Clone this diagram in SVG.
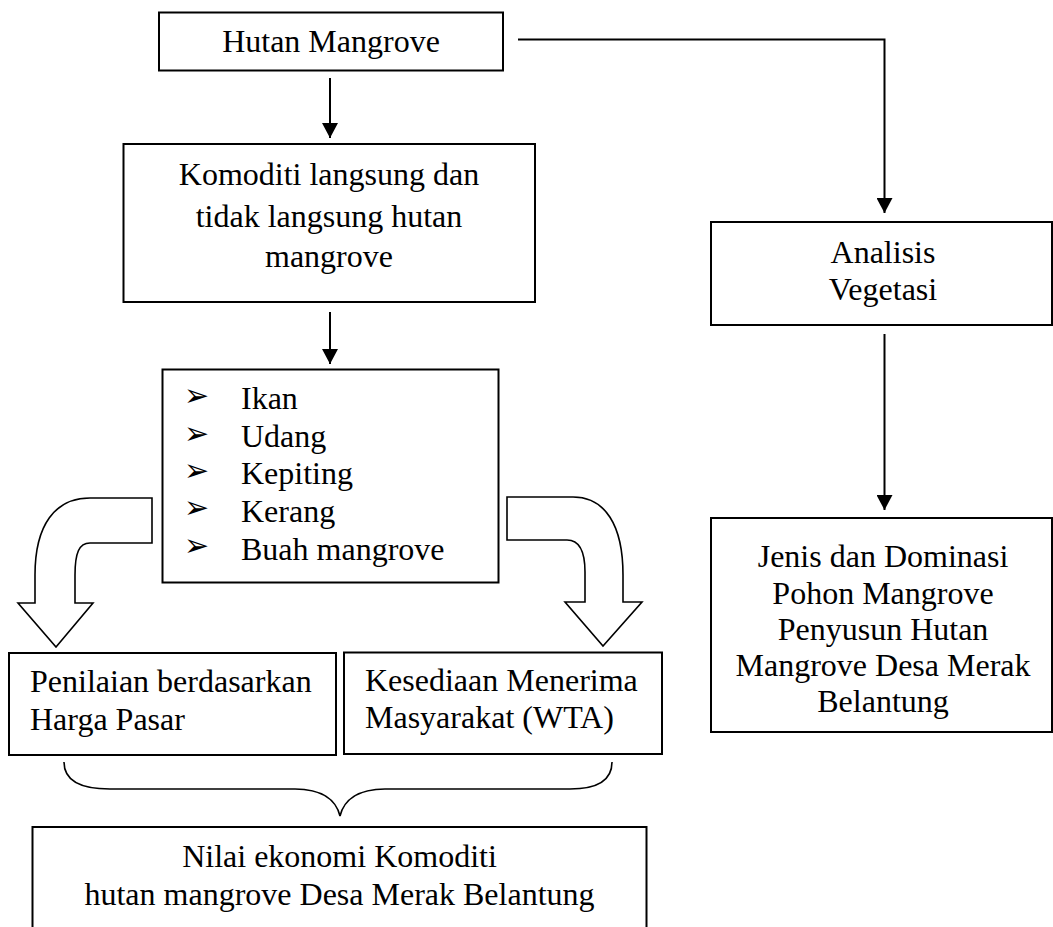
<svg xmlns="http://www.w3.org/2000/svg" width="1053" height="927" viewBox="0 0 1053 927">
<style>
.box{fill:#fff;stroke:#000;stroke-width:2}
.t{font-family:"Liberation Serif","Times New Roman",serif;font-size:32px;fill:#000}
.c{text-anchor:middle}
.b{font-family:"DejaVu Sans",sans-serif;font-size:30px;fill:#000}
.ln{fill:none;stroke:#000;stroke-width:2}
.blk{fill:#fff;stroke:#000;stroke-width:1.6;stroke-linejoin:miter}
.brace{fill:none;stroke:#000;stroke-width:1.6}
</style>
<defs>
<marker id="ah" markerUnits="userSpaceOnUse" markerWidth="18" markerHeight="16" refX="15" refY="8" orient="auto">
<path d="M0,0 L15,8 L0,16 Z" fill="#000"/>
</marker>
</defs>
<rect width="1053" height="927" fill="#fff"/>

<g id="connectors">
<path class="ln" d="M330,78 V138" marker-end="url(#ah)"/>
<path class="ln" d="M330,312 V364" marker-end="url(#ah)"/>
<path class="ln" d="M518,39.5 H884.5 V213" marker-end="url(#ah)"/>
<path class="ln" d="M884.5,334 V510" marker-end="url(#ah)"/>
<path class="blk" d="M152,498 L90,498 C55,498 35,525 35,575 L35,603 L18,603 L56,647 L93,603 L75,603 L75,575 C75,553 79,543 90,543 L152,543 Z"/>
<path class="blk" d="M507,497 L573,497 C605,497 623,525 623,575 L623,602 L642,602 L603,646 L565,602 L585,602 L585,572 C585,552 580,540 567,540 L507,540 Z"/>
<path class="brace" d="M64,762 C64,780 80,789 110,789 L295,789 C322,789 336,800 340,816 C344,800 358,789 385,789 L570,789 C598,789 612,780 612,762"/>
</g>

<g id="hutan">
<rect class="box" x="159" y="12.5" width="344" height="58"/>
<text class="t c" x="331" y="52">Hutan Mangrove</text>
</g>

<g id="komoditi">
<rect class="box" x="123.5" y="144" width="411.5" height="158"/>
<text class="t c" x="329" y="185">Komoditi langsung dan</text>
<text class="t c" x="329" y="226.5">tidak langsung hutan</text>
<text class="t c" x="329" y="267">mangrove</text>
</g>

<g id="daftar">
<rect class="box" x="162.5" y="369.5" width="336" height="213"/>
<text class="b" transform="scale(1,1.05)"><tspan x="184" y="386.7">➢</tspan><tspan x="184" y="422.4">➢</tspan><tspan x="184" y="458.1">➢</tspan><tspan x="184" y="493.8">➢</tspan><tspan x="184" y="530">➢</tspan></text>
<text class="t" x="241" y="409">Ikan</text>
<text class="t" x="241" y="446.5">Udang</text>
<text class="t" x="241" y="484">Kepiting</text>
<text class="t" x="241" y="521.5">Kerang</text>
<text class="t" x="241" y="559.5">Buah mangrove</text>
</g>

<g id="analisis">
<rect class="box" x="711" y="222" width="341" height="103"/>
<text class="t c" x="883" y="263">Analisis</text>
<text class="t c" x="883" y="299.5">Vegetasi</text>
</g>

<g id="jenis">
<rect class="box" x="711" y="518" width="341" height="214"/>
<text class="t c" x="883" y="567">Jenis dan Dominasi</text>
<text class="t c" x="883" y="603.5">Pohon Mangrove</text>
<text class="t c" x="883" y="640">Penyusun Hutan</text>
<text class="t c" x="883" y="676">Mangrove Desa Merak</text>
<text class="t c" x="883" y="712">Belantung</text>
</g>

<g id="penilaian">
<rect class="box" x="9" y="653" width="327" height="102"/>
<text class="t" x="30" y="691.5">Penilaian berdasarkan</text>
<text class="t" x="30" y="729.5">Harga Pasar</text>
</g>

<g id="kesediaan">
<rect class="box" x="344" y="652.5" width="318" height="101.5"/>
<text class="t" x="365" y="690.5">Kesediaan Menerima</text>
<text class="t" x="365" y="727.5">Masyarakat (WTA)</text>
</g>

<g id="nilai">
<rect class="box" x="32.5" y="827" width="614" height="130"/>
<text class="t c" x="339.5" y="867">Nilai ekonomi Komoditi</text>
<text class="t c" x="339.5" y="905">hutan mangrove Desa Merak Belantung</text>
</g>
</svg>
